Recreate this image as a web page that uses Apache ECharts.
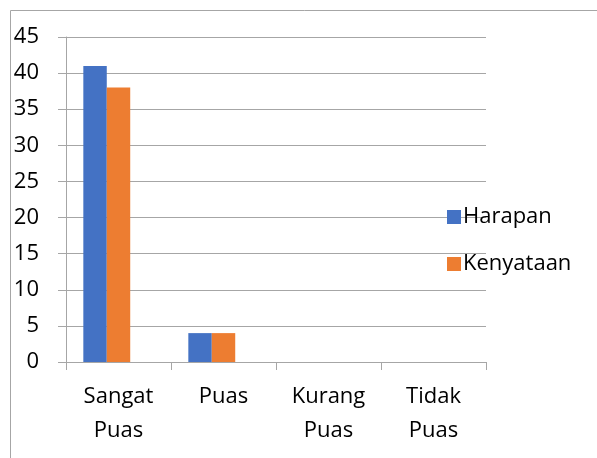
<!DOCTYPE html>
<html><head><meta charset="utf-8">
<script src="https://cdn.jsdelivr.net/npm/echarts@6/dist/echarts.min.js"></script>
<style>html,body{margin:0;padding:0;background:#fff}#c{width:597px;height:458px}</style>
</head><body><div id="c"></div>
<script>
const categories = ['Sangat\nPuas', 'Puas', 'Kurang\nPuas', 'Tidak\nPuas'];
const harapan = [41, 4, 0, 0];
const kenyataan = [38, 4, 0, 0];
const emptySlot = [null, null, null, null];
const seriesNames = ['Harapan', 'Kenyataan'];
const chart = echarts.init(document.getElementById('c'));
const font = '"Open Sans", Calibri, sans-serif';
chart.setOption({
  animation: false,
  textStyle: { fontFamily: font },
  graphic: [{ type: 'rect', shape: { x: 10.5, y: 10.5, width: 800, height: 800 }, style: { fill: 'none', stroke: '#a6a6a6', lineWidth: 1 }, silent: true }],
  grid: { left: 66, right: 111, top: 37, bottom: 96 },
  legend: {
    orient: 'vertical', left: 442, top: 201, itemWidth: 14, itemHeight: 14, itemGap: 25,
    icon: 'rect', textStyle: { fontSize: 22, color: '#000', fontFamily: font, padding: [0, 0, 0, -3] },
    data: seriesNames
  },
  xAxis: {
    type: 'category', data: categories,
    axisLine: { lineStyle: { color: '#a6a6a6' } },
    axisTick: { show: true, length: 8, lineStyle: { color: '#a6a6a6' } },
    axisLabel: { color: '#000', fontSize: 22, lineHeight: 34, margin: 18, fontFamily: font }
  },
  yAxis: {
    type: 'value', min: 0, max: 45, interval: 5,
    axisLine: { show: true, lineStyle: { color: '#a6a6a6' } },
    axisTick: { show: true, length: 8, lineStyle: { color: '#a6a6a6' } },
    splitLine: { lineStyle: { color: '#a6a6a6' } },
    axisLabel: { color: '#000', fontSize: 22, margin: 27, fontFamily: font }
  },
  series: [
    { name: seriesNames[0], type: 'bar', data: harapan, itemStyle: { color: '#4472C4' }, barGap: '0%', barCategoryGap: '33%' },
    { name: seriesNames[1], type: 'bar', data: kenyataan, itemStyle: { color: '#ED7D31' }, barGap: '0%', barCategoryGap: '33%' },
    { name: 'empty', type: 'bar', data: emptySlot, itemStyle: { color: '#A5A5A5' }, barGap: '0%', barCategoryGap: '33%' }
  ]
});
</script></body></html>
